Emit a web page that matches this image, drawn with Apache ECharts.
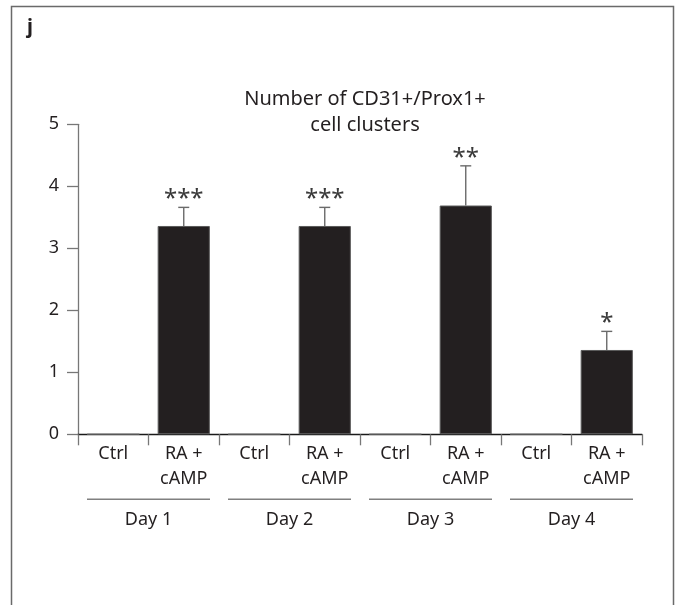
<!DOCTYPE html>
<html>
<head>
<meta charset="utf-8">
<script src="https://cdn.jsdelivr.net/npm/echarts@6/dist/echarts.min.js"></script>
<style>
html,body{margin:0;padding:0;background:#fff;}
#chart{width:679px;height:605px;}
</style>
</head>
<body>
<div id="chart"></div>
<script>
var categories = ['Ctrl', 'RA +\ncAMP', 'Ctrl', 'RA +\ncAMP', 'Ctrl', 'RA +\ncAMP', 'Ctrl', 'RA +\ncAMP'];
var means = [0, 3.36, 0, 3.36, 0, 3.69, 0, 1.36];
var errors = [0, 0.30, 0, 0.30, 0, 0.64, 0, 0.30];
var stars = ['', '***', '', '***', '', '**', '', '*'];
var days = ['Day 1', 'Day 2', 'Day 3', 'Day 4'];
var yTicks = [0, 1, 2, 3, 4, 5];

var FONT = '"Noto Sans", "Open Sans", sans-serif';
var TXT = '#231f20';

var chart = echarts.init(document.getElementById('chart'));

var errData = means.map(function (m, i) { return [i, m, errors[i], stars[i]]; });
var dayData = days.map(function (d, i) { return [i, 0]; });

chart.setOption({
  animation: false,
  backgroundColor: '#fff',
  title: {
    text: 'Number of CD31+/Prox1+\ncell clusters',
    left: 360,
    textAlign: 'center',
    top: 81,
    textStyle: { fontFamily: FONT, fontSize: 20, fontWeight: 'normal', color: TXT, lineHeight: 26 }
  },
  graphic: [
    { type: 'rect', shape: { x: 11.5, y: 6.5, width: 662, height: 610 }, style: { fill: 'none', stroke: '#6a6a6a', lineWidth: 1.5 }, silent: true },
    { type: 'text', left: 27, top: 17, style: { text: 'j', font: 'bold 20px ' + FONT, fill: TXT } }
  ],
  grid: { left: 78, right: 37, top: 124.3, bottom: 170.7, containLabel: false },
  xAxis: [
    {
      type: 'category',
      data: categories,
      boundaryGap: true,
      axisLine: { show: true, lineStyle: { color: '#1a1a1a', width: 1.3 } },
      axisTick: { show: true, inside: false, length: 11, alignWithLabel: false, lineStyle: { color: '#777', width: 1.3 } },
      axisLabel: { fontFamily: FONT, fontSize: 18, color: TXT, lineHeight: 25, margin: 7, interval: 0 }
    },
    {
      type: 'category',
      data: days,
      position: 'bottom',
      offset: 70,
      boundaryGap: true,
      axisLine: { show: false },
      axisTick: { show: false },
      axisLabel: { fontFamily: FONT, fontSize: 18, color: TXT, margin: 7, interval: 0 }
    }
  ],
  yAxis: {
    type: 'value',
    min: 0,
    max: 5,
    interval: 1,
    splitLine: { show: false },
    axisLine: { show: true, lineStyle: { color: '#777', width: 1.3 } },
    axisTick: { show: true, length: 11, lineStyle: { color: '#777', width: 1.3 } },
    axisLabel: { fontFamily: FONT, fontSize: 18, color: TXT, margin: 19 }
  },
  series: [
    {
      type: 'bar',
      data: means,
      barWidth: '74%',
      itemStyle: { color: '#231f20', borderColor: '#5a5a5a', borderWidth: 1 },
      z: 2
    },
    {
      type: 'custom',
      data: errData,
      z: 3,
      renderItem: function (params, api) {
        var i = api.value(0), m = api.value(1), e = api.value(2);
        var s = stars[params.dataIndex];
        if (!(m > 0)) return null;
        var top = api.coord([i, m]);
        var hi = api.coord([i, m + e]);
        var cw = 5.5;
        return {
          type: 'group',
          children: [
            { type: 'line', shape: { x1: top[0], y1: top[1], x2: hi[0], y2: hi[1] }, style: { stroke: '#6a6a6a', lineWidth: 1.4 } },
            { type: 'line', shape: { x1: hi[0] - cw, y1: hi[1], x2: hi[0] + cw, y2: hi[1] }, style: { stroke: '#6a6a6a', lineWidth: 1.4 } },
            { type: 'text', x: hi[0], y: hi[1] + 4, style: { text: s, font: '24px ' + FONT, fill: '#3a3a3a', textAlign: 'center', textVerticalAlign: 'bottom' } }
          ]
        };
      }
    },
    {
      type: 'custom',
      xAxisIndex: 1,
      data: dayData,
      clip: false,
      renderItem: function (params, api) {
        var c = api.coord([api.value(0), 0]);
        var w = api.size([1, 0])[0];
        var y = c[1] + 65;
        return { type: 'line', shape: { x1: c[0] - w / 2 + 9, y1: y, x2: c[0] + w / 2 - 9, y2: y }, style: { stroke: '#808080', lineWidth: 1.5 } };
      }
    }
  ]
});
</script>
</body>
</html>
